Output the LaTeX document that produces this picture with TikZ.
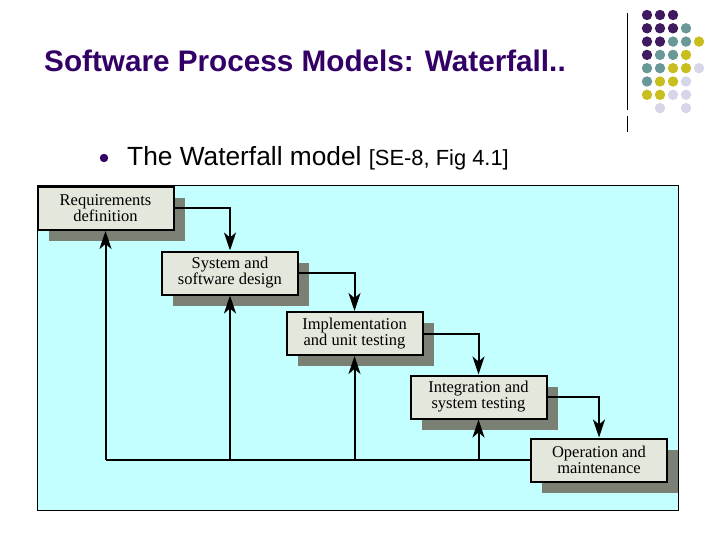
\documentclass[tikz,border=0pt]{standalone}
\usepackage{fontspec}
\setmainfont{Liberation Sans}
\newfontfamily\boxfont{Liberation Serif}
\usetikzlibrary{arrows.meta,shadows}

\definecolor{titlepurple}{RGB}{51,0,102}
\definecolor{dotpurple}{RGB}{64,26,96}
\definecolor{dotteal}{RGB}{104,152,152}
\definecolor{dotyellow}{RGB}{200,190,30}
\definecolor{dotlilac}{RGB}{214,214,232}
\definecolor{framecyan}{RGB}{196,255,255}
\definecolor{boxgray}{RGB}{228,231,220}
\definecolor{shadowgray}{RGB}{122,128,115}

\begin{document}
\begin{tikzpicture}[x=1pt,y=-1pt,
    phase/.style={draw=black,line width=2pt,fill=boxgray,
        minimum width=136pt,minimum height=43pt,inner sep=2pt,
        align=center,font=\boxfont\fontsize{16.5}{16}\selectfont,
        drop shadow={shadow xshift=11pt,shadow yshift=-11pt,fill=shadowgray,opacity=1}},
    flow/.style={line width=2pt,-{Stealth[length=18pt,width=12pt,inset=5pt]}}]
    \useasboundingbox (0,0) rectangle (720,540);

    % corner decoration
    \draw[line width=1pt] (627,13) -- (627,110);
    \draw[line width=1pt] (627,116) -- (627,132);
    \foreach \c/\r/\col in {1/1/dotpurple,2/1/dotpurple,3/1/dotpurple,
            1/2/dotpurple,2/2/dotpurple,3/2/dotpurple,4/2/dotteal,
            1/3/dotpurple,2/3/dotpurple,3/3/dotteal,4/3/dotteal,5/3/dotyellow,
            1/4/dotpurple,2/4/dotteal,3/4/dotteal,4/4/dotyellow,
            1/5/dotteal,2/5/dotteal,3/5/dotyellow,4/5/dotyellow,5/5/dotlilac,
            1/6/dotteal,2/6/dotyellow,3/6/dotyellow,4/6/dotlilac,
            1/7/dotyellow,2/7/dotyellow,3/7/dotlilac,4/7/dotlilac,
            2/8/dotlilac,4/8/dotlilac}
        \fill[\col] ({634+13*\c},{1.7+13.3*\r}) circle (5.2);

    % heading
    \node[anchor=base west,inner sep=0,text=titlepurple,
        font=\bfseries\fontsize{29.7}{34}\selectfont] (title) at (44,72)
        {Software Process Models: Waterfall..};
    \fill[titlepurple] (104,158) circle (4.2);
    \node[anchor=base west,inner sep=0] (bullet) at (127,166)
        {\fontsize{26.3}{30}\selectfont The Waterfall model
         \fontsize{21.9}{26}\selectfont[SE-8, Fig 4.1]};

    % figure
    \draw[fill=framecyan,line width=1pt] (37,186) rectangle (678,510);

    \node[phase] (req) at (105.5,208.5) {Requirements\\definition};
    \node[phase] (design) at (230,273) {System and\\software design};
    \node[phase] (impl) at (354.5,333.5) {Implementation\\and unit testing};
    \node[phase] (integ) at (478.5,397) {Integration and\\system testing};
    \node[phase] (oper) at (599,460) {Operation and\\maintenance};

    \draw[flow] (req.east) -| (design.north);
    \draw[flow] (design.east) -| (impl.north);
    \draw[flow] (impl.east) -| (integ.north);
    \draw[flow] (integ.east) -| (oper.north);

    \draw[line width=1.6pt] (oper.west) -- (req.south |- oper.west);
    \foreach \b in {req,design,impl,integ}
        \draw[flow] (\b.south |- oper.west) -- (\b.south);
\end{tikzpicture}
\end{document}
